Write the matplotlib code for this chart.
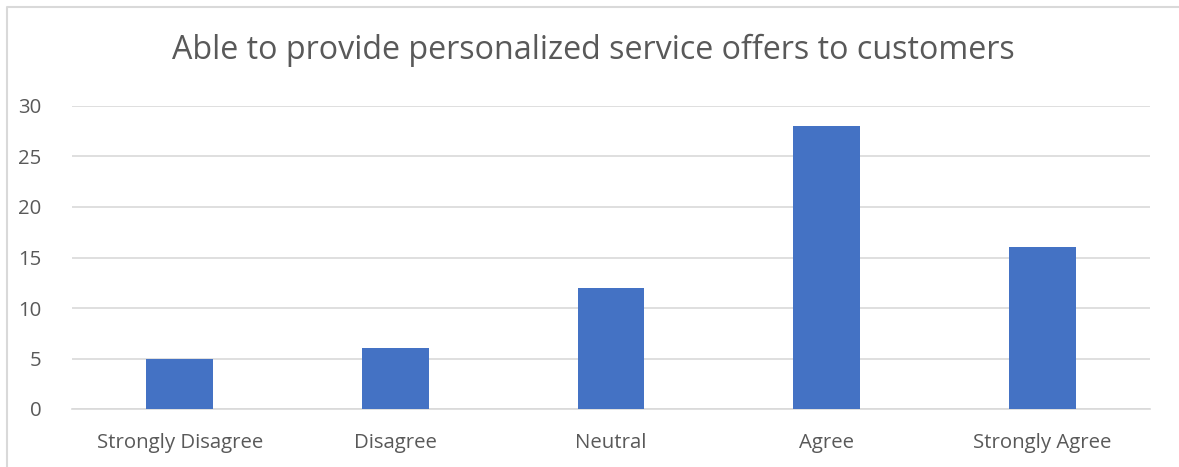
import matplotlib
matplotlib.use("Agg")
import matplotlib.pyplot as plt
from matplotlib.lines import Line2D

categories = ["Strongly Disagree", "Disagree", "Neutral", "Agree", "Strongly Agree"]
values = [5, 6, 12, 28, 16]
yticks = [0, 5, 10, 15, 20, 25, 30]
title = "Able to provide personalized service offers to customers"

plt.rcParams['font.family'] = ['Open Sans', 'DejaVu Sans']
W, H = 1179, 467
fig = plt.figure(figsize=(W / 100, H / 100), dpi=100)
ax = fig.add_axes([72 / W, 1 - 409 / H, (1150 - 72) / W, (409 - 106) / H])

x = list(range(len(categories)))
ax.bar(x, values, width=0.31, color="#4472C4", zorder=3)
ax.set_xlim(-0.5, len(categories) - 0.5)
ax.set_ylim(0, 30)
ax.set_yticks(yticks)
ax.set_xticks(x)
ax.set_xticklabels(categories)
ax.grid(axis="y", color="#D9D9D9", linewidth=1.2, zorder=0)
for s in ["top", "right", "left"]:
    ax.spines[s].set_visible(False)
ax.spines["bottom"].set_color("#D9D9D9")
ax.spines["bottom"].set_linewidth(1.2)
ax.tick_params(axis="both", length=0, colors="#595959", labelsize=14.7)
ax.tick_params(axis="y", pad=22)
ax.tick_params(axis="x", pad=17)

fig.text(593 / W, 1 - 50 / H, title, ha="center", va="center", fontsize=23.2, color="#595959")

fig.add_artist(Line2D([7 / W, 7 / W, 1.0], [0.0, 1 - 7 / H, 1 - 7 / H],
                      transform=fig.transFigure, color="#D9D9D9", linewidth=1.5))

fig.savefig("out.png", dpi=100)
